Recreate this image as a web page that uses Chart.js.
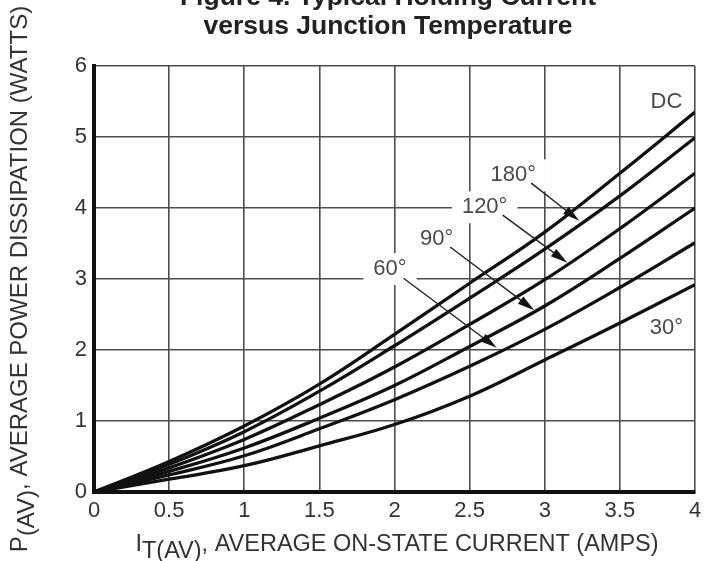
<!DOCTYPE html>
<html>
<head>
<meta charset="utf-8">
<script src="https://cdn.jsdelivr.net/npm/chart.js@4.4.1/dist/chart.umd.min.js"></script>
<style>
  html, body { margin: 0; padding: 0; background: #fff; }
  #wrap { width: 715px; height: 561px; position: relative; }
</style>
</head>
<body>
<div id="wrap"><canvas id="powerChart"></canvas></div>
<script>
// --- Data: average power dissipation (W) vs average on-state current (A) ---
const currentAmps = [0, 0.5, 1, 1.5, 2, 2.5, 3, 3.5, 4];
const powerDC  = [0, 0.43, 0.93, 1.52, 2.22, 2.94, 3.66, 4.49, 5.35];
const power180 = [0, 0.39, 0.85, 1.42, 2.06, 2.73, 3.42, 4.17, 4.99];
const power120 = [0, 0.34, 0.74, 1.23, 1.76, 2.36, 2.99, 3.71, 4.49];
const power90  = [0, 0.29, 0.62, 1.04, 1.50, 2.05, 2.62, 3.29, 4.00];
const power60  = [0, 0.24, 0.51, 0.89, 1.30, 1.77, 2.29, 2.88, 3.51];
const power30  = [0, 0.18, 0.37, 0.65, 0.95, 1.35, 1.86, 2.38, 2.92];

const xTicks = [0, 0.5, 1, 1.5, 2, 2.5, 3, 3.5, 4];
const xTickLabels = ['0', '0.5', '1', '1.5', '2', '2.5', '3', '3.5', '4'];
const yTicks = [0, 1, 2, 3, 4, 5, 6];
const yTickLabels = ['0', '1', '2', '3', '4', '5', '6'];

// conduction angle labels, placed in data units, with leader arrows
const curveLabels = ['DC', '180°', '120°', '90°', '60°', '30°'];
const labelX = [3.81, 2.79, 2.60, 2.28, 1.97, 3.81];
const labelY = [5.49, 4.46, 4.01, 3.56, 3.14, 2.31];
const arrowFrom = [null, [2.91, 4.35], [2.72, 3.90], [2.37, 3.45], [2.06, 3.01], null];
const arrowTo   = [null, [3.23, 3.82], [3.15, 3.23], [2.93, 2.56], [2.68, 2.03], null];

const FONT = '"Liberation Sans", Arial, Helvetica, sans-serif';
const LABEL_FONT = '22px ' + FONT;

const toPoints = (ys) => currentAmps.map((x, i) => ({ x: x, y: ys[i] }));

const curve = (label, ys) => ({
  label: label,
  data: toPoints(ys),
  borderColor: '#111',
  borderWidth: 3.3,
  pointRadius: 0,
  fill: false,
  tension: 0.4
});

// draws "main" + subscript pieces centered on (0,0) of the current transform
const drawRichText = (ctx, parts, font, subFont, subShift) => {
  let total = 0;
  parts.forEach(p => {
    ctx.font = p.sub ? subFont : font;
    total += ctx.measureText(p.text).width;
  });
  let x = -total / 2;
  ctx.textAlign = 'left';
  ctx.textBaseline = 'middle';
  parts.forEach(p => {
    ctx.font = p.sub ? subFont : font;
    ctx.fillText(p.text, x, p.sub ? subShift : 0);
    x += ctx.measureText(p.text).width;
  });
};

// white boxes behind labels break the grid lines
const labelBoxes = {
  id: 'labelBoxes',
  beforeDatasetsDraw(chart) {
    const { ctx, scales } = chart;
    ctx.save();
    ctx.font = LABEL_FONT;
    ctx.fillStyle = '#fff';
    curveLabels.forEach((txt, i) => {
      const px = scales.x.getPixelForValue(labelX[i]);
      const py = scales.y.getPixelForValue(labelY[i]);
      const w = ctx.measureText(txt).width;
      ctx.fillRect(px - w / 2 - 10, py - 16, w + 20, 32);
    });
    ctx.restore();
  }
};

const annotations = {
  id: 'annotations',
  afterDatasetsDraw(chart) {
    const { ctx, scales } = chart;
    ctx.save();
    ctx.font = LABEL_FONT;
    ctx.fillStyle = '#4a4a4a';
    ctx.textAlign = 'center';
    ctx.textBaseline = 'middle';
    curveLabels.forEach((txt, i) => {
      ctx.fillText(txt, scales.x.getPixelForValue(labelX[i]), scales.y.getPixelForValue(labelY[i]));
    });

    ctx.strokeStyle = '#222';
    ctx.fillStyle = '#111';
    ctx.lineWidth = 1.4;
    arrowFrom.forEach((from, i) => {
      if (!from) return;
      const x1 = scales.x.getPixelForValue(from[0]);
      const y1 = scales.y.getPixelForValue(from[1]);
      const x2 = scales.x.getPixelForValue(arrowTo[i][0]);
      const y2 = scales.y.getPixelForValue(arrowTo[i][1]);
      const ang = Math.atan2(y2 - y1, x2 - x1);
      const len = 17, half = 4.5;
      ctx.beginPath();
      ctx.moveTo(x1, y1);
      ctx.lineTo(x2 - Math.cos(ang) * len * 0.6, y2 - Math.sin(ang) * len * 0.6);
      ctx.stroke();
      ctx.beginPath();
      ctx.moveTo(x2, y2);
      ctx.lineTo(x2 - Math.cos(ang) * len - Math.sin(ang) * half, y2 - Math.sin(ang) * len + Math.cos(ang) * half);
      ctx.lineTo(x2 - Math.cos(ang) * len + Math.sin(ang) * half, y2 - Math.sin(ang) * len - Math.cos(ang) * half);
      ctx.closePath();
      ctx.fill();
    });
    ctx.restore();
  }
};

// figure title and axis titles (with subscripts)
const titles = {
  id: 'titles',
  afterDraw(chart) {
    const { ctx } = chart;
    ctx.save();
    ctx.fillStyle = '#222';
    ctx.textAlign = 'center';
    ctx.textBaseline = 'middle';
    ctx.font = 'bold 26.5px ' + FONT;
    ctx.fillText('Figure 4. Typical Holding Current', 388, -2);
    ctx.fillText('versus Junction Temperature', 388, 27);

    ctx.fillStyle = '#333';
    ctx.save();
    ctx.translate(397, 545);
    drawRichText(ctx, [
      { text: 'I' },
      { text: 'T(AV)', sub: true },
      { text: ', AVERAGE ON-STATE CURRENT (AMPS)' }
    ], '23.5px ' + FONT, '23.5px ' + FONT, 7);
    ctx.restore();

    ctx.save();
    ctx.translate(20, 279);
    ctx.rotate(-Math.PI / 2);
    drawRichText(ctx, [
      { text: 'P' },
      { text: '(AV)', sub: true },
      { text: ', AVERAGE POWER DISSIPATION (WATTS)' }
    ], '24px ' + FONT, '24px ' + FONT, 7);
    ctx.restore();
    ctx.restore();
  }
};

const powerChart = new Chart(document.getElementById('powerChart'), {
  type: 'line',
  data: {
    datasets: [
      curve('DC', powerDC),
      curve('180°', power180),
      curve('120°', power120),
      curve('90°', power90),
      curve('60°', power60),
      curve('30°', power30)
    ]
  },
  options: {
    responsive: true,
    maintainAspectRatio: false,
    animation: false,
    layout: { padding: { top: 66, right: 20, left: 0, bottom: 0 } },
    plugins: {
      legend: { display: false },
      tooltip: { enabled: false }
    },
    scales: {
      x: {
        type: 'linear',
        min: 0,
        max: 4,
        afterBuildTicks: (scale) => { scale.ticks = xTicks.map(v => ({ value: v })); },
        afterFit: (scale) => { scale.height = 69; },
        ticks: {
          callback: (value, index) => xTickLabels[index],
          color: '#333',
          font: { family: FONT, size: 22 },
          padding: 6,
          maxRotation: 0
        },
        grid: { color: '#4d4d4d', lineWidth: 1.6, drawTicks: false },
        border: { display: true, color: '#111', width: 4 }
      },
      y: {
        type: 'linear',
        min: 0,
        max: 6,
        afterBuildTicks: (scale) => { scale.ticks = yTicks.map(v => ({ value: v })); },
        afterFit: (scale) => { scale.width = 94; },
        ticks: {
          callback: (value, index) => yTickLabels[index],
          color: '#333',
          font: { family: FONT, size: 22 },
          padding: 7
        },
        grid: { color: '#4d4d4d', lineWidth: 1.6, drawTicks: false },
        border: { display: true, color: '#111', width: 4 }
      }
    }
  },
  plugins: [labelBoxes, annotations, titles]
});
</script>
</body>
</html>
